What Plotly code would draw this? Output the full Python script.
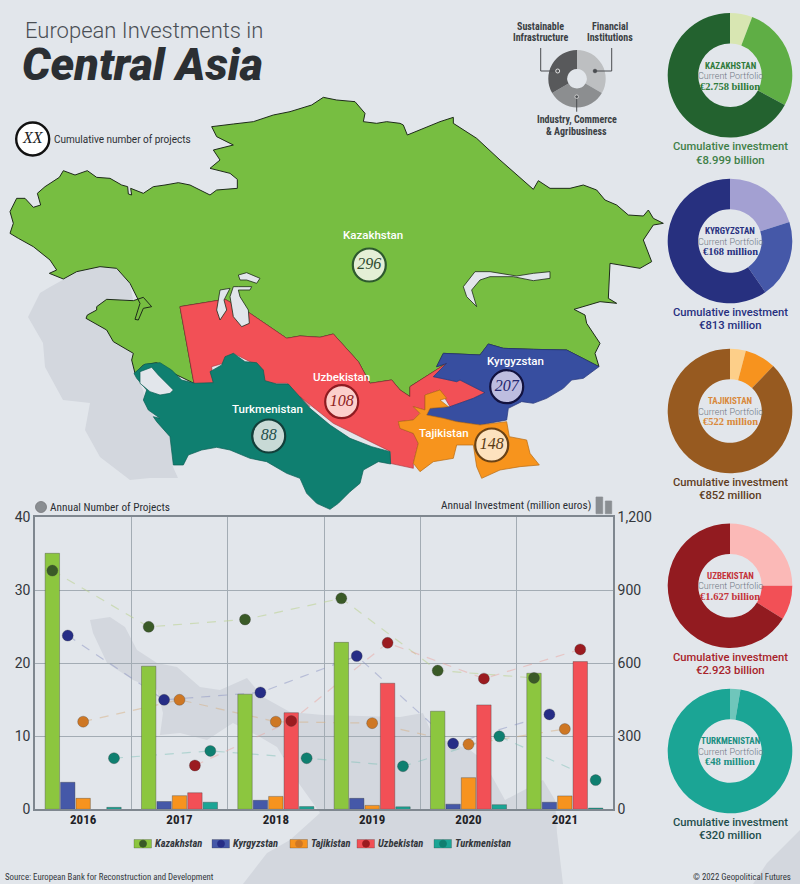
#!/usr/bin/env python3
"""European investments in Central Asia: map, annual bars/dots and portfolio donuts."""

import plotly.graph_objects as go

WIDTH = 800
HEIGHT = 884
BACKGROUND = "#E2E6EB"
SEA_GREY = "#D3D7DE"

COUNTRIES = ["Kazakhstan", "Kyrgyzstan", "Tajikistan", "Uzbekistan", "Turkmenistan"]
YEARS = [2016, 2017, 2018, 2019, 2020, 2021]

# Annual investment, million euros
INVEST_KAZAKHSTAN = [1052, 588, 473, 686, 403, 559]
INVEST_KYRGYZSTAN = [111, 32, 37, 45, 21, 29]
INVEST_TAJIKISTAN = [45, 56, 53, 16, 130, 55]
INVEST_UZBEKISTAN = [None, 68, 397, 518, 429, 607]
INVEST_TURKMENISTAN = [8, 29, 11, 10, 19, 5]

# Annual number of projects
PROJECTS_KAZAKHSTAN = [32.7, 25, 26, 28.9, 19, 18]
PROJECTS_KYRGYZSTAN = [23.8, 15, 16, 21, 9, 13]
PROJECTS_TAJIKISTAN = [12, 15, 12, 11.8, 8.9, 11]
PROJECTS_UZBEKISTAN = [None, 6, 12.1, 22.8, 17.9, 21.9]
PROJECTS_TURKMENISTAN = [7, 8, 7, 5.9, 10, 4]

INVESTMENTS = [INVEST_KAZAKHSTAN, INVEST_KYRGYZSTAN, INVEST_TAJIKISTAN, INVEST_UZBEKISTAN, INVEST_TURKMENISTAN]
PROJECTS = [PROJECTS_KAZAKHSTAN, PROJECTS_KYRGYZSTAN, PROJECTS_TAJIKISTAN, PROJECTS_UZBEKISTAN, PROJECTS_TURKMENISTAN]

# Portfolio shares clockwise from 12 o'clock: financial, sustainable infrastructure, industry
SHARES_KAZAKHSTAN = [5.8, 27.1, 67.1]
SHARES_KYRGYZSTAN = [20.1, 20.3, 59.6]
SHARES_TAJIKISTAN = [4.1, 8.1, 87.8]
SHARES_UZBEKISTAN = [25, 8.9, 66.1]
SHARES_TURKMENISTAN = [2.7, 97.3]
SECTOR_LEGEND_SHARES = [1, 1, 1]

PORTFOLIO_LABELS = ["€2.758 billion", "€168 million", "€522 million", "€1.627 billion", "€48 million"]
CUMULATIVE_LABELS = ["€8.999 billion", "€813 million", "€852 million", "€2.923 billion", "€320 million"]
CUMULATIVE_PROJECTS = [296, 207, 148, 108, 88]

BAR_COLORS = ["#8CC63F", "#4558A8", "#F7931E", "#F25056", "#1BA595"]
DOT_COLORS = ["#3A5A27", "#262D86", "#CE7724", "#9B1B20", "#0F7F70"]
LINE_COLORS = [
    "rgba(185,210,140,0.55)",
    "rgba(130,140,190,0.45)",
    "rgba(215,175,130,0.5)",
    "rgba(235,165,160,0.5)",
    "rgba(120,190,180,0.45)",
]

# Outlines are traced in units of a third of a pixel, relative to the map corner (0, 90)
KAZ_WEST = [
    (30, 365), (50, 325), (75, 325), (100, 352), (122, 345), (112, 310), (135, 290), (178, 262),
    (190, 242), (225, 255), (262, 242), (290, 262), (330, 265), (365, 285), (383, 290), (385, 312),
    (395, 315), (392, 295), (430, 310), (460, 290), (495, 285), (535, 278), (570, 285), (605, 303),
    (630, 315), (650, 300), (712, 295), (712, 268), (690, 250), (630, 235), (660, 210), (640, 180),
    (700, 165), (650, 140), (635, 110), (700, 102), (760, 95), (820, 75), (870, 65), (935, 45),
    (970, 22), (1010, 30), (1065, 35), (1095, 70), (1090, 95), (1130, 100), (1160, 95),
]
KAZ_EAST = [
    (300, 100), (310, 105), (322, 135), (370, 115), (420, 95), (460, 82), (460, 100), (530, 145),
    (600, 210), (700, 298), (715, 272), (750, 295), (810, 295), (850, 285), (890, 300), (915, 330),
    (950, 345), (985, 375), (1030, 378), (1045, 360), (1060, 385), (1090, 400), (1060, 405),
    (1030, 450), (1055, 515), (1020, 535), (930, 520), (925, 625), (950, 640), (900, 635),
    (850, 650), (822, 658), (855, 675), (860, 700), (900, 760), (885, 790), (897, 830), (800, 780),
    (700, 778), (610, 775), (565, 762), (540, 795), (430, 790), (410, 830), (440, 820), (330, 890),
    (330, 920), (300, 900), (275, 870), (210, 880), (175, 815), (100, 732), (60, 742), (0, 738),
]
KAZ_SOUTH = [
    (860, 745), (750, 670), (675, 628), (540, 650), (582, 880), (560, 870), (510, 845), (470, 818),
    (430, 825), (405, 850), (395, 810), (400, 790), (340, 755), (320, 720), (258, 685), (262, 675),
    (290, 660), (290, 650), (320, 628), (400, 632), (430, 622), (455, 650), (430, 655), (415, 690),
    (405, 688), (420, 640), (390, 580), (350, 535), (300, 530), (230, 545), (190, 567), (148, 550),
    (170, 540), (150, 510), (100, 470), (55, 445), (30, 430), (40, 400),
]
ARAL_WEST = [(660, 600), (690, 595), (672, 630), (680, 660), (660, 690), (650, 660)]
ARAL_EAST = [
    (700, 590), (690, 620), (700, 680), (725, 710), (748, 700), (745, 660), (720, 620), (715, 600),
    (750, 600), (755, 590), (715, 590),
]
ARAL_NORTH = [(715, 555), (740, 548), (780, 565), (770, 580), (740, 570), (720, 570)]
BALKHASH = [
    (490, 590), (525, 545), (570, 545), (600, 550), (650, 558), (700, 550), (750, 545), (750, 565),
    (700, 572), (640, 560), (570, 560), (540, 570), (515, 600), (530, 650), (500, 620),
]
UZB_NORTH = [(540, 650), (675, 628), (750, 670), (860, 745)]
UZB_EAST = [
    (0, 738), (60, 742), (100, 732), (175, 815), (210, 880), (275, 870), (300, 900), (330, 920),
    (330, 890), (440, 820), (400, 860), (470, 875), (480, 870), (555, 908), (520, 925), (450, 950),
    (420, 900), (375, 915), (375, 960), (340, 950), (360, 970), (340, 990), (295, 995), (300, 1015),
    (340, 1030), (355, 1060), (340, 1120), (340, 1135), (270, 1120), (272, 1085), (100, 1000),
    (0, 920),
]
UZB_SOUTH = [(930, 950), (860, 880), (790, 880), (770, 825), (700, 790), (670, 820), (635, 830), (640, 880), (582, 880)]
TURKMENISTAN = [
    (12, 100), (45, 72), (90, 68), (125, 90), (155, 120), (195, 130), (250, 128), (240, 95), (275, 75),
    (285, 50), (310, 40), (345, 65), (380, 68), (400, 90), (405, 122), (440, 132), (475, 132),
    (505, 165), (540, 205), (600, 255), (660, 295), (725, 320), (780, 335), (782, 372), (745, 365),
    (700, 390), (690, 430), (660, 455), (625, 490), (600, 508), (560, 490), (530, 460), (510, 415),
    (470, 400), (410, 365), (360, 355), (300, 330), (260, 322), (215, 330), (175, 345), (160, 375),
    (130, 375), (120, 290), (80, 245), (70, 230), (90, 235), (75, 225), (55, 210), (40, 180), (50, 150),
    (20, 115),
]
KARA_BOGAZ = [(30, 95), (65, 82), (85, 105), (130, 150), (120, 160), (90, 165), (60, 155), (30, 130)]
KYRGYZSTAN = [
    (897, 830), (800, 780), (700, 778), (610, 775), (565, 762), (540, 795), (430, 790), (410, 830),
    (440, 820), (400, 860), (470, 875), (480, 870), (555, 908), (520, 925), (450, 950), (390, 955),
    (380, 975), (430, 985), (470, 995), (540, 1005), (620, 990), (625, 955), (665, 935), (700, 940),
    (740, 925), (790, 895), (815, 870), (850, 865),
]
TAJIKISTAN = [
    (420, 900), (440, 925), (420, 930), (445, 950), (390, 955), (380, 975), (430, 985), (470, 995),
    (540, 1005), (620, 995), (628, 1040), (680, 1050), (690, 1090), (718, 1125), (660, 1130),
    (600, 1140), (545, 1165), (530, 1130), (520, 1065), (470, 1065), (460, 1105), (400, 1115),
    (360, 1145), (340, 1120), (355, 1060), (340, 1030), (300, 1015), (295, 995), (340, 990), (360, 970),
    (340, 950), (375, 960), (375, 915),
]

# Grey land and sea silhouettes in the background, in canvas pixels
CASPIAN_GREY = [
    (28, 317), (40, 293), (50, 287), (63, 280), (77, 272), (100, 267), (117, 268), (130, 283), (133, 300),
    (86, 318), (107, 330), (113, 342), (133, 353), (135, 373), (143, 390), (147, 407), (170, 437),
    (173, 467), (178, 478), (150, 478), (130, 480), (100, 457), (85, 430), (90, 403), (63, 400),
    (45, 367), (43, 343),
]
GULF_GREY = [
    (90, 620), (110, 617), (125, 627), (137, 650), (157, 663), (177, 667), (200, 687), (220, 690),
    (247, 678), (263, 697), (290, 712), (323, 715), (400, 717), (423, 713), (433, 736), (470, 750),
    (483, 760), (490, 773), (505, 800), (543, 780), (555, 800), (557, 833), (563, 884), (243, 884),
    (267, 853), (290, 840), (320, 813), (300, 785), (277, 747), (260, 737), (233, 723), (207, 740),
    (180, 733), (160, 735), (163, 713), (157, 690), (133, 680), (107, 663), (93, 633),
]
CORNER_GREY = [(753, 884), (767, 863), (800, 830), (800, 884)]

MAP_LABEL_POINTS = [(372.7, 235), (515, 360.7), (444, 433.3), (341.7, 376.7), (267.3, 409)]
MAP_CIRCLE_POINTS = [(369.3, 265), (506.7, 386.7), (491.7, 445), (341.7, 401.7), (268.7, 436)]
MAP_CIRCLE_FILLS = ["#E4EFD6", "#BDBDE0", "#FDE2BE", "#FCCFCB", "#C8DAD6"]
MAP_CIRCLE_EDGES = ["#2E5A2E", "#12123F", "#6B4316", "#8E1B20", "#123F3A"]
MAP_CIRCLE_TEXT = ["#2E4A2E", "#23266E", "#5A3A14", "#8E1B20", "#1F4E4B"]

DONUT_CENTERS_Y = [75.3, 241, 411, 585.7, 751]
DONUT_COLORS = [
    ["#D8E6B2", "#5FAE45", "#23622F"],
    ["#A3A0D2", "#4558A8", "#27307F"],
    ["#FDCF89", "#F7931E", "#975A20"],
    ["#FBB9B7", "#F25056", "#921B20"],
    ["#6FC6BB", "#1BA595"],
]
DONUT_NAME_COLORS = ["#2F7A3A", "#27307F", "#D9893A", "#C4333A", "#1B8F82"]
DONUT_CAPTION_COLORS = ["#3F8048", "#27307F", "#5E3D1E", "#A8232A", "#1F4E4B"]
DONUT_SHARES = [SHARES_KAZAKHSTAN, SHARES_KYRGYZSTAN, SHARES_TAJIKISTAN, SHARES_UZBEKISTAN, SHARES_TURKMENISTAN]

ROBOTO = "Roboto"
NARROW = "Roboto Condensed, Roboto"
SERIF = "Liberation Serif"


def from_crop(points, dx=0, dy=0):
    """Turn third-of-a-pixel outline points into canvas pixels."""
    return [((x + dx) / 3, 90 + (y + dy) / 3) for x, y in points]


def add_polygon(fig, points, fill, edge="rgba(0,0,0,0)", width=0):
    """Draw one closed polygon on the hidden full-canvas axes."""
    xs = [p[0] for p in points] + [points[0][0]]
    ys = [p[1] for p in points] + [points[0][1]]
    fig.add_trace(
        go.Scatter(
            x=xs, y=ys, mode="lines", fill="toself", fillcolor=fill,
            line={"color": edge, "width": width}, hoverinfo="skip",
            xaxis="x", yaxis="y",
        )
    )


def add_text(fig, x, y, text, size, color, family=ROBOTO, anchor="center", **font):
    """Place a text label at canvas pixel coordinates."""
    fig.add_annotation(
        x=x, y=y, xref="x", yref="y", text=text, showarrow=False, xanchor=anchor,
        yanchor="middle", borderpad=0, borderwidth=0,
        font={"family": family, "size": size, "color": color, **font},
    )


def add_rect(fig, x0, y0, x1, y1, fill, edge=None):
    fig.add_shape(
        type="rect", x0=x0, y0=y0, x1=x1, y1=y1, xref="x", yref="y", fillcolor=fill,
        line={"color": edge or fill, "width": 0.7}, layer="above",
    )


def add_dot(fig, x, y, radius, fill, edge=None):
    fig.add_shape(
        type="circle", x0=x - radius, x1=x + radius, y0=y - radius, y1=y + radius,
        xref="x", yref="y", fillcolor=fill, line={"color": edge or fill, "width": 0.8},
        layer="above",
    )


def add_leader(fig, points):
    path = "M " + " L ".join(f"{x},{y}" for x, y in points)
    fig.add_shape(
        type="path", path=path, xref="x", yref="y",
        line={"color": "#4A4D50", "width": 1}, layer="above",
    )


def add_donut(fig, shares, colors, center_x, center_y, radius, hole):
    fig.add_trace(
        go.Pie(
            values=shares, sort=False, direction="clockwise", rotation=0, hole=hole,
            marker={"colors": colors, "line": {"width": 0}}, textinfo="none",
            hoverinfo="skip", showlegend=False,
            domain={
                "x": [(center_x - radius) / WIDTH, (center_x + radius) / WIDTH],
                "y": [1 - (center_y + radius) / HEIGHT, 1 - (center_y - radius) / HEIGHT],
            },
        )
    )


fig = go.Figure()

# Background silhouettes and map
add_polygon(fig, CASPIAN_GREY, SEA_GREY)
add_polygon(fig, GULF_GREY, SEA_GREY)
add_polygon(fig, CORNER_GREY, SEA_GREY)
add_polygon(
    fig,
    from_crop(KAZ_WEST) + from_crop(KAZ_EAST, dx=900) + from_crop(KAZ_SOUTH),
    "#77BE41", "#1E2B1A", 1,
)
add_polygon(fig, from_crop(BALKHASH, dx=900), BACKGROUND, "#1E2B1A", 0.8)
add_polygon(
    fig,
    from_crop(UZB_NORTH) + from_crop(UZB_EAST, dx=900) + from_crop(UZB_SOUTH),
    "#F25056", "#A8323A", 0.6,
)
for lake in (ARAL_WEST, ARAL_EAST, ARAL_NORTH):
    add_polygon(fig, from_crop(lake), BACKGROUND, "#1E2B1A", 0.8)
add_polygon(fig, from_crop(TURKMENISTAN, dx=390, dy=750), "#0F7F70", "#0B5F54", 0.7)
add_polygon(fig, from_crop(KARA_BOGAZ, dx=390, dy=750), BACKGROUND, "#0B5F54", 0.7)
add_polygon(fig, from_crop(KYRGYZSTAN, dx=900), "#374EA0", "#26367A", 0.7)
add_polygon(fig, from_crop(TAJIKISTAN, dx=900), "#F7941D", "#B76C14", 0.7)

fig.add_trace(
    go.Scatter(
        x=[p[0] for p in MAP_CIRCLE_POINTS],
        y=[p[1] for p in MAP_CIRCLE_POINTS],
        mode="markers+text",
        text=[str(v) for v in CUMULATIVE_PROJECTS],
        textposition="middle center",
        textfont={"family": SERIF, "size": 16, "style": "italic", "color": MAP_CIRCLE_TEXT},
        marker={"size": 33, "color": MAP_CIRCLE_FILLS, "line": {"color": MAP_CIRCLE_EDGES, "width": 2.2}},
        hoverinfo="skip", xaxis="x", yaxis="y",
    )
)
fig.add_trace(
    go.Scatter(
        x=[32.7], y=[139], mode="markers+text", text=["XX"], textposition="middle center",
        textfont={"family": SERIF, "size": 16, "style": "italic", "color": "#222222"},
        marker={"size": 33, "color": "#FFFFFF", "line": {"color": "#111111", "width": 2.4}},
        hoverinfo="skip", xaxis="x", yaxis="y",
    )
)

# Annual chart: lines sit under the bars, dots on top of them
spread = 0.16
for i, name in enumerate(COUNTRIES):
    dot_x = [year + (i - 2) * spread for year in YEARS]
    fig.add_trace(
        go.Scatter(
            x=dot_x, y=PROJECTS[i], mode="lines", connectgaps=False, hoverinfo="skip",
            line={"color": LINE_COLORS[i], "width": 1.2, "dash": "9px,8px"},
            xaxis="x2", yaxis="y2",
        )
    )
for i, name in enumerate(COUNTRIES):
    fig.add_trace(
        go.Bar(
            x=YEARS, y=INVESTMENTS[i], name=name,
            marker={"color": BAR_COLORS[i], "line": {"color": "rgba(60,60,60,0.45)", "width": 0.8}},
            xaxis="x2", yaxis="y3",
        )
    )
for i, name in enumerate(COUNTRIES):
    dot_x = [year + (i - 2) * spread for year in YEARS]
    fig.add_trace(
        go.Scatter(
            x=dot_x, y=PROJECTS[i], mode="markers", name=name,
            marker={"size": 11, "color": DOT_COLORS[i], "line": {"color": "rgba(60,60,60,0.5)", "width": 0.6}},
            xaxis="x2", yaxis="y4",
        )
    )

# Donuts
for i, name in enumerate(COUNTRIES):
    cy = DONUT_CENTERS_Y[i]
    add_donut(fig, DONUT_SHARES[i], DONUT_COLORS[i], 730, cy, 62.3, 0.51)
    add_text(fig, 730, cy - 9.7, name.upper(), 9, DONUT_NAME_COLORS[i], NARROW, weight=700)
    add_text(fig, 730, cy + 0.7, "Current Portfolio", 9, "#6F7883", weight=300)
    add_text(fig, 730, cy + 10.7, PORTFOLIO_LABELS[i], 10.5, DONUT_NAME_COLORS[i], SERIF, weight=700)
    add_text(fig, 730, cy + 71.4, "Cumulative investment", 11.2, DONUT_CAPTION_COLORS[i], weight=500)
    add_text(fig, 730, cy + 84.7, CUMULATIVE_LABELS[i], 11.3, DONUT_CAPTION_COLORS[i], weight=500)

# Sector key
add_donut(fig, SECTOR_LEGEND_SHARES, ["#BDBFC1", "#8C8E90", "#58595B"], 577, 78.7, 28.7, 0.34)
add_leader(fig, [(595, 71), (611.7, 71), (611.7, 48)])
add_leader(fig, [(557.7, 71), (540.7, 71), (540.7, 48)])
add_leader(fig, [(576.7, 96.7), (576.7, 111.7)])
add_dot(fig, 595, 71, 1.8, "#4A4D50")
add_dot(fig, 557.7, 71, 2, "#58595B", "#FFFFFF")
add_dot(fig, 576.7, 96.7, 1.8, "#4A4D50", "#DDDDDD")
sector_lines = [
    (540, 26, "Sustainable"), (540, 37.7, "Infrastructure"),
    (610, 26, "Financial"), (610, 37.7, "Institutions"),
    (576.7, 119.7, "Industry, Commerce"), (576.7, 131.3, "& Agribusiness"),
]
for line_x, line_y, line in sector_lines:
    add_text(fig, line_x, line_y, line, 10, "#3B3F44", NARROW, weight=700)

# Titles and notes
add_text(fig, 25, 30, "European Investments in", 22, "#4A4F55", anchor="left", weight=300)
add_text(fig, 22, 64, "Central Asia", 44.9, "#2B2F33", anchor="left", weight=900, style="italic")
add_text(fig, 54, 139, "Cumulative number of projects", 10, "#2B2F33", anchor="left")
for i, name in enumerate(COUNTRIES):
    add_text(fig, MAP_LABEL_POINTS[i][0], MAP_LABEL_POINTS[i][1], name, 11.5, "#FFFFFF", weight=500)

add_dot(fig, 41, 507, 5.5, "#8A8E92", "#77797C")
add_text(fig, 50, 507, "Annual Number of Projects", 11.3, "#2B2F33", NARROW, anchor="left")
add_text(fig, 591, 505.7, "Annual Investment (million euros)", 11.3, "#2B2F33", NARROW, anchor="right")
add_rect(fig, 596, 497, 602.7, 513.7, "#8A8E92")
add_rect(fig, 605.3, 501, 611.7, 513.7, "#8A8E92")

# Chart legend
legend_swatch_x = [134, 212, 290, 357, 434]
for i, name in enumerate(COUNTRIES):
    sx = legend_swatch_x[i]
    add_rect(fig, sx, 839.5, sx + 17.5, 848, BAR_COLORS[i], "rgba(60,60,60,0.4)")
    add_dot(fig, sx + 9, 843.7, 3.5, DOT_COLORS[i])
    add_text(fig, sx + 21, 843, name, 10.5, "#33373C", NARROW, anchor="left", weight=700, style="italic")

add_text(fig, 5, 876.7, "Source: European Bank for Reconstruction and Development", 8.8, "#33373C", NARROW, anchor="left")
add_text(fig, 791, 876.7, "© 2022 Geopolitical Futures", 8.8, "#33373C", NARROW, anchor="right")

chart_x = [35 / WIDTH, 613 / WIDTH]
chart_y = [1 - 809.3 / HEIGHT, 1 - 517.3 / HEIGHT]
frame = "#7F878F"
grid = "#A3ACB4"
fig.update_layout(
    width=WIDTH,
    height=HEIGHT,
    autosize=False,
    showlegend=False,
    paper_bgcolor=BACKGROUND,
    plot_bgcolor="rgba(0,0,0,0)",
    margin={"l": 0, "r": 0, "t": 0, "b": 0, "autoexpand": False},
    barmode="group",
    bargap=0.2,
    bargroupgap=0.065,
    xaxis={"domain": [0, 1], "range": [0, WIDTH], "visible": False, "fixedrange": True},
    yaxis={"domain": [0, 1], "range": [HEIGHT, 0], "visible": False, "fixedrange": True},
    xaxis2={
        "domain": chart_x, "anchor": "y2", "range": [YEARS[0] - 0.5, YEARS[-1] + 0.5],
        "tickmode": "array", "tickvals": YEARS, "ticktext": [str(y) for y in YEARS],
        "showgrid": False, "zeroline": False, "ticks": "", "ticklabelstandoff": -3,
        "minor": {
            "tickvals": [y + 0.5 for y in YEARS[:-1]], "showgrid": True,
            "gridcolor": grid, "gridwidth": 1, "ticks": "",
        },
        "showline": True, "mirror": True, "linecolor": frame, "linewidth": 1.5,
        "tickfont": {"family": NARROW, "size": 13, "color": "#1F2226", "weight": 700},
    },
    yaxis2={
        "domain": chart_y, "anchor": "x2", "range": [0, 40], "tickvals": [0, 10, 20, 30, 40],
        "showgrid": True, "gridcolor": grid, "gridwidth": 1, "zeroline": False,
        "showline": True, "linecolor": frame, "linewidth": 1.5, "ticks": "",
        "tickfont": {"family": ROBOTO, "size": 14, "color": "#33373C"},
    },
    yaxis3={
        "domain": chart_y, "anchor": "x2", "overlaying": "y2", "side": "right",
        "range": [0, 1200], "tickvals": [0, 300, 600, 900, 1200], "tickformat": ",",
        "showgrid": False, "zeroline": False, "showline": True, "linecolor": frame,
        "linewidth": 1.5, "ticks": "",
        "tickfont": {"family": ROBOTO, "size": 14, "color": "#33373C"},
    },
    yaxis4={
        "domain": chart_y, "anchor": "x2", "overlaying": "y2", "range": [0, 40],
        "visible": False,
    },
)

# Page with no body margin; condensed labels use Roboto's width axis where the font has one
page_script = """
document.body.style.margin = '0';
document.body.style.overflow = 'hidden';
document.querySelectorAll('text').forEach(function (t) {
    if (t.style.fontFamily.indexOf('Condensed') >= 0) { t.style.fontStretch = '75%'; }
});
"""
fig.write_html("out.html", config={"displayModeBar": False}, post_script=page_script)
